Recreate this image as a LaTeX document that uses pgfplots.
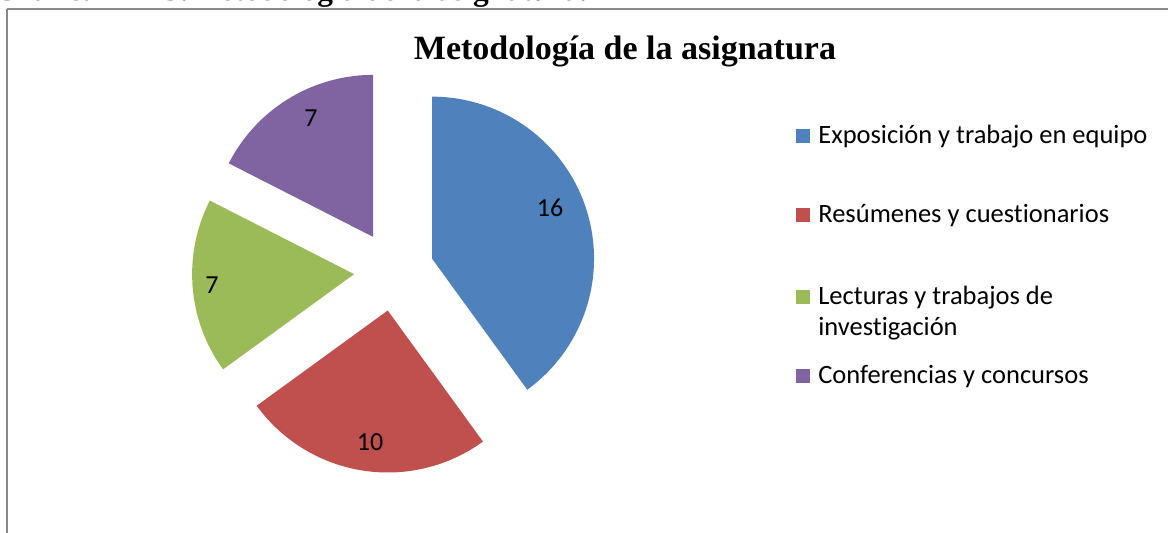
\documentclass[border=0pt]{standalone}
\usepackage{pgfplots}
\pgfplotsset{compat=1.18}
\usepackage{fontspec}
\setmainfont{Carlito}[Ligatures={NoCommon,NoContextual},RawFeature={-liga;-clig;-dlig}]
\newfontfamily\titlefont{Liberation Serif}
\definecolor{exblue}{HTML}{4F81BD}
\definecolor{exred}{HTML}{C0504D}
\definecolor{exgreen}{HTML}{9BBB59}
\definecolor{expurple}{HTML}{8064A2}
\definecolor{frame}{HTML}{898989}
% data
\def\va{16}\def\vb{10}\def\vc{7}\def\vd{7}
\pgfmathsetmacro{\tot}{\va+\vb+\vc+\vd}
% angles (clockwise from 90)
\pgfmathsetmacro{\aA}{90}
\pgfmathsetmacro{\aB}{90-360*\va/\tot}
\pgfmathsetmacro{\aC}{\aB-360*\vb/\tot}
\pgfmathsetmacro{\aD}{\aC-360*\vc/\tot}
\pgfmathsetmacro{\aE}{\aD-360*\vd/\tot}
\def\cx{394}\def\cy{261}\def\R{162}\def\ex{40}
\pgfmathsetmacro{\xA}{\cx+\ex*cos((\aA+\aB)/2)}\pgfmathsetmacro{\yA}{\cy+\ex*sin((\aA+\aB)/2)}
\pgfmathsetmacro{\xB}{\cx+\ex*cos((\aB+\aC)/2)}\pgfmathsetmacro{\yB}{\cy+\ex*sin((\aB+\aC)/2)}
\pgfmathsetmacro{\xC}{\cx+\ex*cos((\aC+\aD)/2)}\pgfmathsetmacro{\yC}{\cy+\ex*sin((\aC+\aD)/2)}
\pgfmathsetmacro{\xD}{\cx+\ex*cos((\aD+\aE)/2)}\pgfmathsetmacro{\yD}{\cy+\ex*sin((\aD+\aE)/2)}
\begin{document}
\begin{tikzpicture}
\path[use as bounding box, clip] (0,0) rectangle (700.8pt,319.2pt);
\begin{axis}[
  at={(0,0)}, anchor=origin,
  x=0.6pt, y=0.6pt, scale only axis,
  xmin=0, xmax=1168, ymin=0, ymax=532,
  hide axis, clip=false,
]
% frame
\draw[frame, line width=0.8pt] (axis cs:7,523) -- (axis cs:1190,523);
\draw[frame, line width=0.8pt] (axis cs:7,523) -- (axis cs:7,-20);
% slices
\addplot[fill=exblue, draw=none, domain=\aB:\aA, samples=90, variable=\t] ({\xA+\R*cos(\t)},{\yA+\R*sin(\t)}) -- (axis cs:\xA,\yA) -- cycle;
\addplot[fill=exred, draw=none, domain=\aC:\aB, samples=60, variable=\t] ({\xB+\R*cos(\t)},{\yB+\R*sin(\t)}) -- (axis cs:\xB,\yB) -- cycle;
\addplot[fill=exgreen, draw=none, domain=\aD:\aC, samples=50, variable=\t] ({\xC+\R*cos(\t)},{\yC+\R*sin(\t)}) -- (axis cs:\xC,\yC) -- cycle;
\addplot[fill=expurple, draw=none, domain=\aE:\aD, samples=50, variable=\t] ({\xD+\R*cos(\t)},{\yD+\R*sin(\t)}) -- (axis cs:\xD,\yD) -- cycle;
% data labels
\node[font=\fontsize{15.6pt}{18pt}\selectfont] at (axis cs:550,324) {16};
\node[font=\fontsize{15.6pt}{18pt}\selectfont] at (axis cs:370,90) {10};
\node[font=\fontsize{15.6pt}{18pt}\selectfont] at (axis cs:212,247) {7};
\node[font=\fontsize{15.6pt}{18pt}\selectfont] at (axis cs:311,414) {7};
% title
\node[anchor=base, font=\titlefont\bfseries\fontsize{20.4pt}{24pt}\selectfont, inner sep=0pt] at (axis cs:625,472) {Metodología de la asignatura};
% caption at top (cut off by the page edge, as in the reference)
\node[anchor=base west, font=\titlefont\bfseries\fontsize{18.8pt}{22pt}\selectfont, inner sep=0pt] at (axis cs:190,531) {Metodología de la asignatura.};
\node[anchor=base east, font=\titlefont\bfseries\fontsize{18.8pt}{22pt}\selectfont, inner sep=0pt] at (axis cs:190,531) {Gráfica N° 15:\ };
% legend
\fill[exblue] (axis cs:796,388.5) rectangle (axis cs:810,402.5);
\fill[exred] (axis cs:796,309.5) rectangle (axis cs:810,323.5);
\fill[exgreen] (axis cs:796,228.5) rectangle (axis cs:810,242.5);
\fill[expurple] (axis cs:796,149) rectangle (axis cs:810,163);
\begin{scope}[every node/.style={anchor=base west, inner sep=0pt, font=\fontsize{15.9pt}{18.6pt}\selectfont}]
\node at (axis cs:818,388) {Exposición y trabajo en equipo};
\node at (axis cs:818,309) {Resúmenes y cuestionarios};
\node at (axis cs:818,228) {Lecturas y trabajos de};
\node at (axis cs:818,197) {investigación};
\node at (axis cs:818,148.5) {Conferencias y concursos};
\end{scope}
\end{axis}
\end{tikzpicture}
\end{document}
